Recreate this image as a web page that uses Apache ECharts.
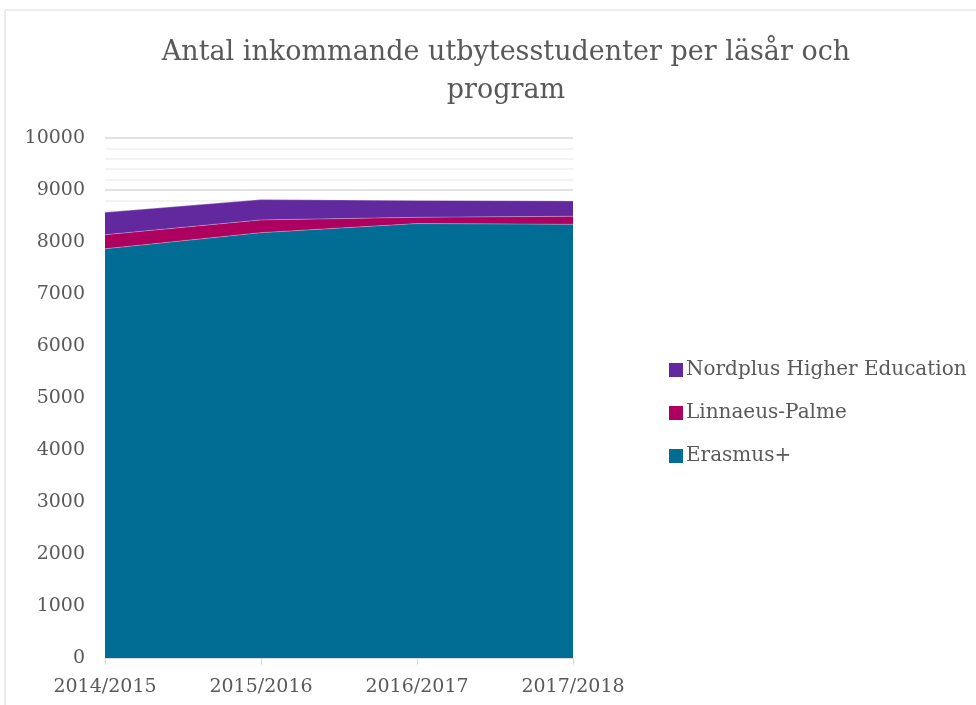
<!DOCTYPE html>
<html>
<head>
<meta charset="utf-8">
<script src="https://cdn.jsdelivr.net/npm/echarts@6/dist/echarts.min.js"></script>
<style>
  html, body { margin: 0; padding: 0; background: #fff; }
  #chart { width: 976px; height: 705px; }
</style>
</head>
<body>
<div id="chart"></div>
<script>
// läsår
var years = ['2014/2015', '2015/2016', '2016/2017', '2017/2018'];

// antal studenter per program
var erasmus = [7870, 8180, 8355, 8340];
var linnaeus = [270, 245, 120, 155];
var nordplus = [430, 390, 325, 295];

var textColor = '#595959';
var font = '"DejaVu Serif", "Liberation Serif", serif';

var chart = echarts.init(document.getElementById('chart'));

function areaSeries(name, data, color) {
    return {
        name: name,
        type: 'line',
        stack: 'total',
        data: data,
        showSymbol: false,
        symbol: 'none',
        lineStyle: { width: 0.6, color: 'rgba(255,255,255,0.5)' },
        itemStyle: { color: color },
        areaStyle: { color: color, opacity: 1 },
        emphasis: { disabled: true }
    };
}

var option = {
    animation: false,
    backgroundColor: '#fff',
    graphic: [{
        type: 'rect',
        shape: { x: 5, y: 10, width: 990, height: 720 },
        style: { fill: 'none', stroke: '#d9d9d9', lineWidth: 1 },
        silent: true
    }],
    title: {
        text: 'Antal inkommande utbytesstudenter per läsår och\nprogram',
        left: 501,
        textAlign: 'center',
        top: 29,
        textStyle: {
            fontFamily: font,
            fontWeight: 'normal',
            fontSize: 27,
            lineHeight: 38,
            color: textColor
        }
    },
    legend: {
        orient: 'vertical',
        left: 664,
        top: 355,
        itemWidth: 14,
        itemHeight: 14,
        itemGap: 23,
        icon: 'rect',
        data: ['Nordplus Higher Education', 'Linnaeus-Palme', 'Erasmus+'],
        textStyle: { fontFamily: font, fontSize: 20, color: textColor, padding: [0, 0, 0, -2] }
    },
    grid: { left: 105, right: 403, top: 138, bottom: 47 },
    xAxis: {
        type: 'category',
        boundaryGap: false,
        data: years,
        axisLine: { lineStyle: { color: '#d9d9d9', width: 1 } },
        axisTick: { show: true, length: 7, lineStyle: { color: '#d9d9d9' } },
        axisLabel: { fontFamily: font, fontSize: 19, color: textColor, margin: 20 }
    },
    yAxis: {
        type: 'value',
        min: 0,
        max: 10000,
        interval: 1000,
        axisLine: { show: false },
        axisTick: { show: false },
        axisLabel: {
            fontFamily: font, fontSize: 19, color: textColor, margin: 20,
            formatter: function (v) { return String(v); }
        },
        splitLine: { lineStyle: { color: '#d9d9d9', width: 1.5 } },
        minorTick: { show: false, splitNumber: 5 },
        minorSplitLine: { show: true, lineStyle: { color: '#f0f0f0', width: 1.5 } }
    },
    series: [
        areaSeries('Erasmus+', erasmus, '#016d95'),
        areaSeries('Linnaeus-Palme', linnaeus, '#ae005e'),
        areaSeries('Nordplus Higher Education', nordplus, '#62289e')
    ]
};

chart.setOption(option);
</script>
</body>
</html>
